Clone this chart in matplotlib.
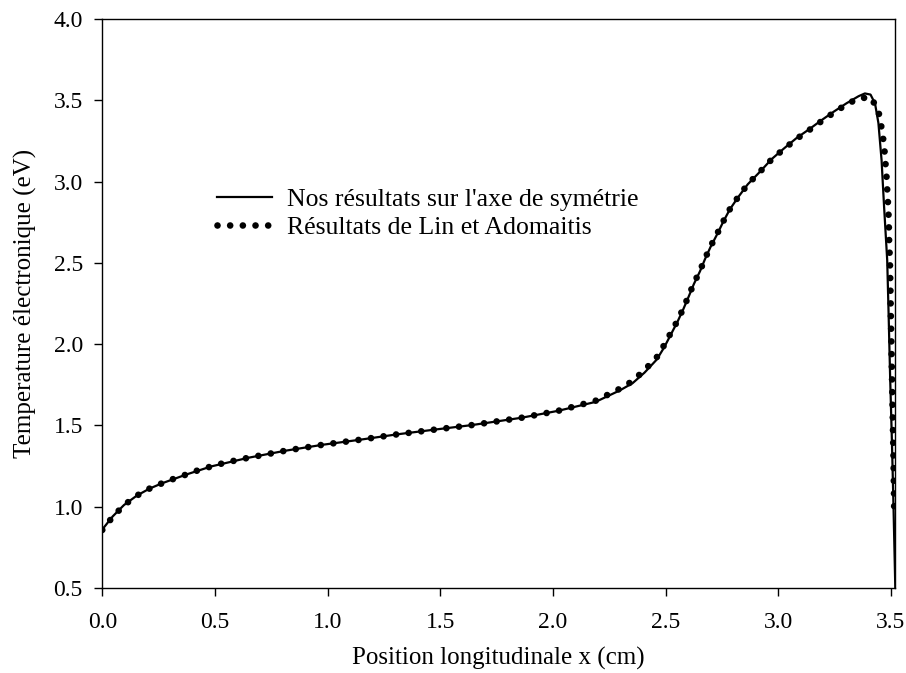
import matplotlib
matplotlib.use("Agg")
import matplotlib.pyplot as plt

# Lin et Adomaitis (dotted)
x_lin = [0.000, 0.046, 0.096, 0.153, 0.209, 0.265, 0.318, 0.375, 0.429, 0.484, 0.540, 0.593,
         0.648, 0.811, 0.978, 1.144, 1.308, 1.474, 1.640, 1.860, 2.024, 2.190, 2.298, 2.354,
         2.407, 2.461, 2.494, 2.524, 2.554, 2.579, 2.603, 2.626, 2.653, 2.675, 2.700, 2.730,
         2.757, 2.786, 2.823, 2.865, 2.919, 2.971, 3.027, 3.082, 3.138, 3.193, 3.249, 3.304,
         3.357, 3.411, 3.444, 3.455, 3.464, 3.471, 3.475, 3.480, 3.483, 3.486, 3.489, 3.491,
         3.492, 3.493, 3.496, 3.500, 3.504, 3.508, 3.512, 3.515]
y_lin = [0.857, 0.937, 1.009, 1.068, 1.111, 1.144, 1.172, 1.199, 1.226, 1.248, 1.269, 1.285,
         1.301, 1.344, 1.381, 1.412, 1.445, 1.474, 1.502, 1.547, 1.590, 1.652, 1.726, 1.773,
         1.841, 1.919, 1.994, 2.070, 2.146, 2.220, 2.298, 2.374, 2.451, 2.525, 2.601, 2.681,
         2.757, 2.831, 2.906, 2.983, 3.060, 3.136, 3.202, 3.263, 3.317, 3.372, 3.426, 3.475,
         3.512, 3.518, 3.440, 3.364, 3.286, 3.210, 3.136, 3.054, 2.978, 2.906, 2.831, 2.753,
         2.681, 2.603, 2.528, 2.200, 1.900, 1.600, 1.300, 0.990]

# Nos résultats (solid)
x_nos = [0.000, 0.046, 0.096, 0.153, 0.209, 0.265, 0.375, 0.484, 0.648, 0.811, 0.978, 1.144,
         1.308, 1.474, 1.640, 1.860, 2.024, 2.190, 2.298, 2.354, 2.407, 2.461, 2.494, 2.524,
         2.554, 2.579, 2.603, 2.626, 2.653, 2.675, 2.700, 2.730, 2.757, 2.786, 2.823, 2.865,
         2.919, 2.971, 3.027, 3.082, 3.138, 3.193, 3.249, 3.304, 3.357, 3.385, 3.410, 3.430,
         3.445, 3.459, 3.470, 3.484, 3.490, 3.497, 3.505, 3.512, 3.520]
y_nos = [0.860, 0.940, 1.010, 1.068, 1.111, 1.144, 1.199, 1.248, 1.301, 1.344, 1.381, 1.412,
         1.445, 1.474, 1.502, 1.547, 1.590, 1.645, 1.716, 1.760, 1.825, 1.905, 1.980, 2.060,
         2.140, 2.215, 2.293, 2.370, 2.448, 2.522, 2.598, 2.678, 2.755, 2.830, 2.905, 2.983,
         3.060, 3.138, 3.205, 3.268, 3.322, 3.378, 3.432, 3.482, 3.525, 3.542, 3.535, 3.480,
         3.360, 3.132, 2.850, 2.517, 2.200, 1.800, 1.400, 1.000, 0.500]

x_ticks = [0.0, 0.5, 1.0, 1.5, 2.0, 2.5, 3.0, 3.5]
y_ticks = [0.5, 1.0, 1.5, 2.0, 2.5, 3.0, 3.5, 4.0]

label_nos = "Nos résultats sur l'axe de symétrie"
label_lin = "Résultats de Lin et Adomaitis"
xlabel = "Position longitudinale x (cm)"
ylabel = "Temperature électronique (eV)"

plt.rcParams['font.family'] = ['Liberation Serif', 'DejaVu Serif']

fig = plt.figure(figsize=(9.06, 6.73), dpi=100)
ax = fig.add_axes([0.1129, 0.1263, 0.8753, 0.8455])

ax.plot(x_nos, y_nos, color='black', lw=1.6, label=label_nos, solid_joinstyle='round')
ax.plot(x_lin, y_lin, color='black', lw=4.8, linestyle=(0, (0.001, 1.9)),
        dash_capstyle='round', label=label_lin)

ax.set_xlim(0, 3.52)
ax.set_ylim(0.5, 4.0)
ax.set_xticks(x_ticks)
ax.set_yticks(y_ticks)
ax.set_xticklabels([f"{v:.1f}" for v in x_ticks])
ax.set_yticklabels([f"{v:.1f}" for v in y_ticks])
ax.tick_params(direction='out', length=5.5, width=1.0, labelsize=17, colors='black')
ax.tick_params(axis='x', pad=12)
ax.tick_params(axis='y', pad=8.5)
for s in ax.spines.values():
    s.set_linewidth(1.0)
    s.set_color('black')

ax.set_xlabel(xlabel, fontsize=18, labelpad=10)
ax.set_ylabel(ylabel, fontsize=18, labelpad=12)

leg = ax.legend(loc='upper left', bbox_to_anchor=(216.7 / 906, 1 - 188 / 673),
                bbox_transform=fig.transFigure, frameon=False, fontsize=18.5,
                borderpad=0, borderaxespad=0, handlelength=2.15, handletextpad=0.6,
                labelspacing=0.2)

fig.savefig("out.png", dpi=100)
